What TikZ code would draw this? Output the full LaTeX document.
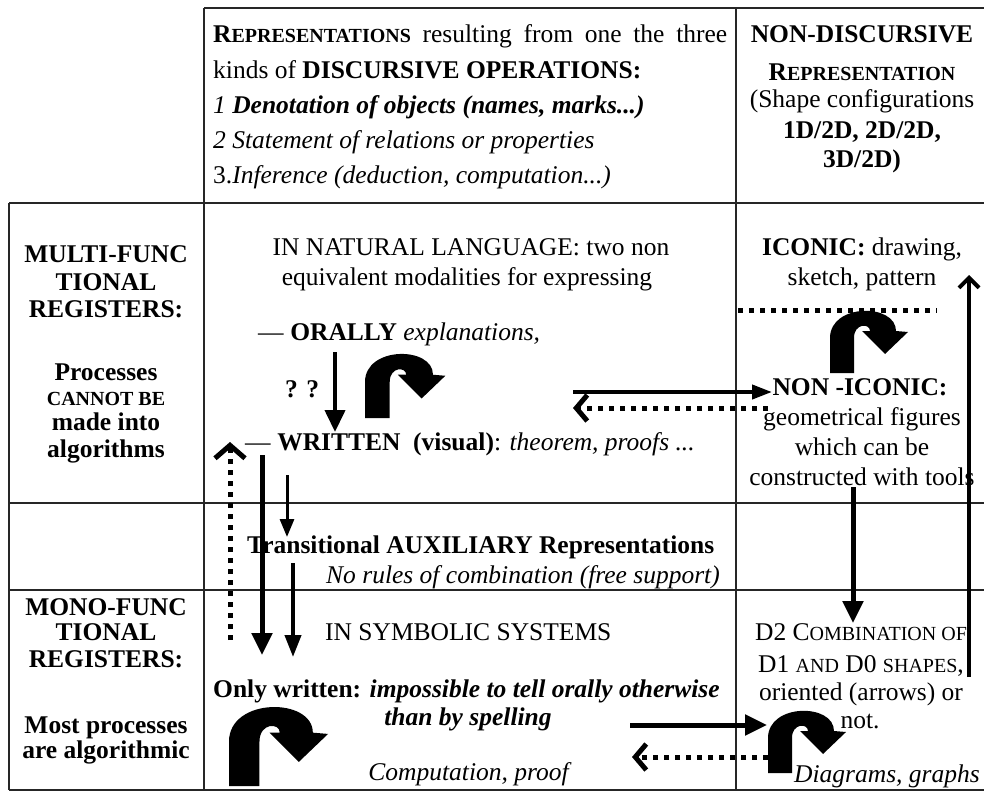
\documentclass[tikz,border=0pt]{standalone}
\usepackage{fontspec}
\setmainfont{Liberation Serif}
\usetikzlibrary{arrows.meta}
\newcommand\smc[1]{{\fontsize{20}{24}\selectfont #1}}
\tikzset{
  gridline/.style={line width=1.5pt, black!85},
  tc/.style={anchor=base},
  tw/.style={anchor=base west},
  te/.style={anchor=base east},
  solidarrow/.style={line width=4pt, -{Triangle[width=20pt,length=22pt]}},
  thinarrow/.style={line width=3pt, -{Triangle[width=14pt,length=18pt]}},
  dotarrow/.style={line width=5pt, dash pattern=on 5pt off 6pt, -{Straight Barb[length=11pt,width=26pt]}},
  dotline/.style={line width=5pt, dash pattern=on 5pt off 6pt},
  uturn/.pic={\fill (0,0) -- (0,-35) .. controls (0,-70) and (66,-70) .. (66,-42) -- (78,-41) -- (55,-19) -- (32,-42) -- (40,-42) .. controls (40,-50) and (24,-50) .. (24,-35) -- (24,0) -- cycle;}
}
\begin{document}
\begin{tikzpicture}[x=1pt,y=-1pt, every node/.style={inner sep=0pt, font=\fontsize{25.5}{30}\selectfont}]
\useasboundingbox (0,0) rectangle (984,792);
% grid
\draw[gridline] (204,8) -- (984,8);
\draw[gridline] (9,203) -- (984,203);
\draw[gridline] (9,503) -- (984,503);
\draw[gridline] (9,590) -- (984,590);
\draw[gridline] (9,790) -- (984,790);
\draw[gridline] (9,203) -- (9,790);
\draw[gridline] (204,8) -- (204,790);
\draw[gridline] (736,8) -- (736,790);
% header middle
\node[tw] (h1) at (213,43) {\makebox[514pt][s]{\textbf{R\smc{EPRESENTATIONS}} resulting from one the three}};
\node[tw] (h2) at (213,78) {kinds of \textbf{DISCURSIVE OPERATIONS:}};
\node[tw] (h3) at (213,113) {\textit{1 \textbf{Denotation of objects (names, marks...)}}};
\node[tw] (h4) at (213,148) {\textit{2 Statement of relations or properties}};
\node[tw] (h5) at (213,183) {3.\textit{Inference (deduction, computation...)}};
% header right
\node[tc] (r1) at (862,43) {\textbf{NON-DISCURSIVE}};
\node[tc] (r2) at (862,80) {\textbf{R\smc{EPRESENTATION}}};
\node[tc] (r3) at (862,107) {(Shape configurations};
\node[tc] (r4) at (862,138) {\textbf{1D/2D, 2D/2D,}};
\node[tc] (r5) at (862,167) {\textbf{3D/2D)}};
% left column
\node[tc] (l1) at (106,262) {\textbf{MULTI-FUNC}};
\node[tc] (l2) at (106,290) {\textbf{TIONAL}};
\node[tc] (l3) at (106,317) {\textbf{REGISTERS:}};
\node[tc] (l4) at (106,380) {\textbf{Processes}};
\node[tc] (l5) at (106,405) {\textbf{\smc{CANNOT BE}}};
\node[tc] (l6) at (106,430) {\textbf{made into}};
\node[tc] (l7) at (106,457) {\textbf{algorithms}};
\node[tc] (k1) at (106,615) {\textbf{MONO-FUNC}};
\node[tc] (k2) at (106,640) {\textbf{TIONAL}};
\node[tc] (k3) at (106,667) {\textbf{REGISTERS:}};
\node[tc] (k4) at (106,733) {\textbf{Most processes}};
\node[tc] (k5) at (106,758) {\textbf{are algorithmic}};
% middle row 2
\node[tc] (m1) at (471,255) {IN NATURAL LANGUAGE: two non};
\node[tc] (m2) at (467,285) {equivalent modalities for expressing};
\node[tw] (m3) at (258,340) {— \textbf{ORALLY} \textit{explanations,}};
\node[tw] (m4) at (285,397) {\textbf{? ?}};
\node[tw] (m5) at (245,450) {— \textbf{WRITTEN\ \ (visual)}: \textit{theorem, proofs ...}};
% right row 2
\node[tc] (i1) at (862,255) {\textbf{ICONIC:} drawing,};
\node[tc] (i2) at (862,285) {sketch, pattern};
\node[tc] (i3) at (860,395) {\textbf{NON -ICONIC:}};
\node[tc] (i4) at (862,425) {geometrical figures};
\node[tc] (i5) at (862,455) {which can be};
\node[tc] (i6) at (862,485) {constructed with tools};
% row 3
\node[tw] (t1) at (247,553) {\textbf{Transitional AUXILIARY Representations}};
\node[te] (t2) at (720,583) {\textit{No rules of combination (free support)}};
% row 4 middle
\node[tw] (s1) at (325,640) {IN SYMBOLIC SYSTEMS};
\node[tw] (s2) at (213,697) {\textbf{Only written: \textit{impossible to tell orally otherwise}}};
\node[tc] (s3) at (468,725) {\textbf{\textit{than by spelling}}};
\node[tc] (s4) at (470,780) {\textit{Computation, proof}};
% row 4 right
\node[tc] (d1) at (861,640) {D2 C\smc{OMBINATION OF}};
\node[tc] (d2) at (861,672) {D1 \smc{AND} D0 \smc{SHAPES},};
\node[tc] (d3) at (861,700) {oriented (arrows) or};
\node[tc] (d4) at (860,728) {not.};
\node[te] (d5) at (980,782) {\textit{Diagrams, graphs}};
% u-turn arrows
\pic[scale=1.03] at (365,418) {uturn};
\pic at (830,373) {uturn};
\pic[scale=1.27] at (229,786) {uturn};
\pic at (768,773) {uturn};
% arrow end points
\coordinate (oA) at (335,352); \coordinate (oB) at (335,432);
\coordinate (hA) at (573,392); \coordinate (hB) at (772,392);
\coordinate (hC) at (768,408); \coordinate (hD) at (573,408);
\coordinate (dlA) at (738,310); \coordinate (dlB) at (937,310);
\coordinate (uA) at (969,677); \coordinate (uB) at (969,275);
\coordinate (nA) at (853,487); \coordinate (nB) at (853,623);
\coordinate (vA) at (230,640); \coordinate (vB) at (230,442);
\coordinate (wA) at (262,455); \coordinate (wB) at (262,655);
\coordinate (xA) at (287,475); \coordinate (xB) at (287,537);
\coordinate (yA) at (293,563); \coordinate (yB) at (293,657);
\coordinate (bA) at (630,725); \coordinate (bB) at (767,725);
\coordinate (bC) at (768,757); \coordinate (bD) at (632,757);
% arrows
\draw[solidarrow] (oA) -- (oB);
\draw[line width=4pt, -{Triangle[width=14pt,length=20pt]}] (hA) -- (hB);
\draw[dotarrow] (hC) -- (hD);
\draw[dotline] (dlA) -- (dlB);
\draw[line width=4pt, -{Straight Barb[length=10pt,width=20pt]}] (uA) -- (uB);
\draw[solidarrow, line width=5pt] (nA) -- (nB);
\draw[dotarrow, -{Straight Barb[length=13pt,width=30pt]}] (vA) -- (vB);
\draw[solidarrow, line width=5pt] (wA) -- (wB);
\draw[thinarrow] (xA) -- (xB);
\draw[line width=4pt, -{Triangle[width=16pt,length=22pt]}] (yA) -- (yB);
\draw[solidarrow, line width=5pt] (bA) -- (bB);
\draw[dotarrow] (bC) -- (bD);
\end{tikzpicture}
\end{document}
